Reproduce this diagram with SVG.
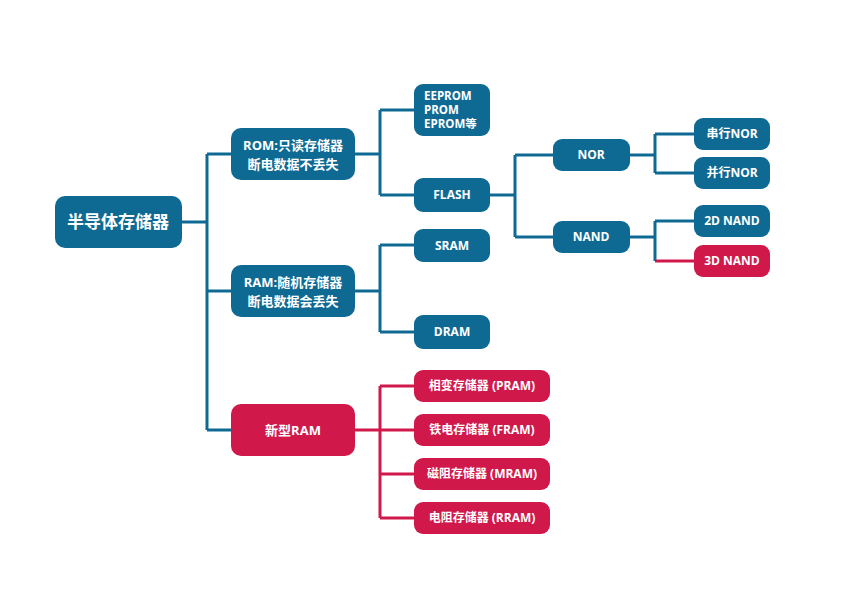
<svg xmlns="http://www.w3.org/2000/svg" width="842" height="596" viewBox="0 0 842 596">
<style>
.b{fill:#0f6a93}.r{fill:#d1184b}
text{fill:#fff;font-family:"Open Sans","Noto Sans CJK SC",sans-serif;font-weight:bold;font-size:12px;text-anchor:middle}
.l{text-anchor:start;font-size:11.5px}
.lb{stroke:#0f6a93;stroke-width:3;fill:none}.lr{stroke:#d1184b;stroke-width:3;fill:none}
</style>
<rect width="842" height="596" fill="#fff"/>
<g id="connectors">
<path class="lb" d="M182 222H207M207 154V430M207 154H231M207 291H231M207 430H231"/>
<path class="lb" d="M355 154H380M380 110V195M380 110H414M380 195H414"/>
<path class="lb" d="M355 291H380M380 245V332M380 245H414M380 332H414"/>
<path class="lr" d="M355 430H380M380 386V518M380 386H414M380 430H414M380 474H414M380 518H414"/>
<path class="lb" d="M490 195H515M515 155V237M515 155H553M515 237H553"/>
<path class="lb" d="M630 155H655M655 134V173M655 134H694M655 173H694"/>
<path class="lb" d="M630 237H655M655 221V261M655 221H694"/>
<path class="lr" d="M655 261H694"/>
</g>
<g id="root"><rect class="b" x="55" y="196" width="127" height="52" rx="10"/><text x="118" y="228" style="font-size:17px">半导体存储器</text></g>
<g id="rom"><rect class="b" x="231" y="128" width="124" height="52" rx="10"/><text x="293" y="150" style="font-size:13px">ROM:只读存储器</text><text x="293" y="169" style="font-size:13px">断电数据不丢失</text></g>
<g id="ram"><rect class="b" x="231" y="265" width="124" height="52" rx="10"/><text x="293" y="287" style="font-size:13px">RAM:随机存储器</text><text x="293" y="306" style="font-size:13px">断电数据会丢失</text></g>
<g id="newram"><rect class="r" x="231" y="404" width="124" height="52" rx="10"/><text x="293" y="435" style="font-size:13px">新型RAM</text></g>
<g id="eeprom"><rect class="b" x="414" y="84" width="76" height="52" rx="9"/><text class="l" x="424" y="100">EEPROM</text><text class="l" x="424" y="114">PROM</text><text class="l" x="424" y="128">EPROM等</text></g>
<g id="flash"><rect class="b" x="414" y="178" width="76" height="34" rx="9"/><text x="452" y="199">FLASH</text></g>
<g id="sram"><rect class="b" x="414" y="229" width="76" height="33" rx="9"/><text x="452" y="250">SRAM</text></g>
<g id="dram"><rect class="b" x="414" y="315" width="76" height="34" rx="9"/><text x="452" y="336">DRAM</text></g>
<g id="pram"><rect class="r" x="414" y="370" width="136" height="32" rx="9"/><text x="482" y="390">相变存储器 (PRAM)</text></g>
<g id="fram"><rect class="r" x="414" y="414" width="136" height="32" rx="9"/><text x="482" y="434">铁电存储器 (FRAM)</text></g>
<g id="mram"><rect class="r" x="414" y="458" width="136" height="32" rx="9"/><text x="482" y="478">磁阻存储器 (MRAM)</text></g>
<g id="rram"><rect class="r" x="414" y="502" width="136" height="32" rx="9"/><text x="482" y="522">电阻存储器 (RRAM)</text></g>
<g id="nor"><rect class="b" x="553" y="139" width="77" height="32" rx="9"/><text x="591" y="159">NOR</text></g>
<g id="nand"><rect class="b" x="553" y="221" width="77" height="32" rx="9"/><text x="591" y="241">NAND</text></g>
<g id="snor"><rect class="b" x="694" y="118" width="76" height="32" rx="9"/><text x="732" y="138">串行NOR</text></g>
<g id="pnor"><rect class="b" x="694" y="157" width="76" height="32" rx="9"/><text x="732" y="177">并行NOR</text></g>
<g id="nand2d"><rect class="b" x="694" y="205" width="76" height="32" rx="9"/><text x="732" y="225">2D NAND</text></g>
<g id="nand3d"><rect class="r" x="694" y="245" width="76" height="32" rx="9"/><text x="732" y="265">3D NAND</text></g>
</svg>
